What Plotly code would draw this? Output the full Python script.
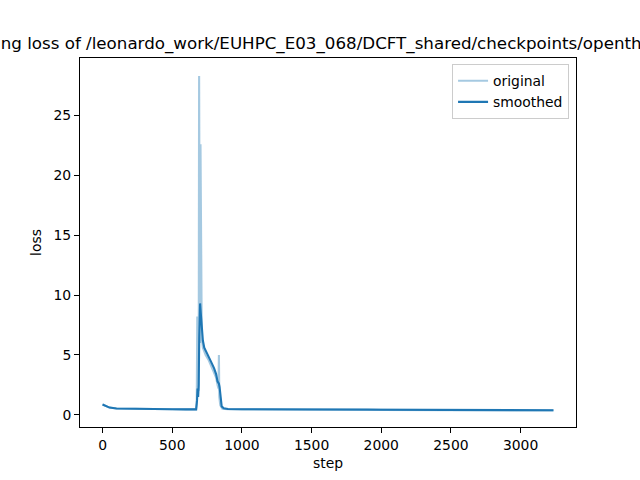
import plotly.graph_objects as go

orig_steps = [0, 20, 50, 100, 200, 300, 400, 500, 600, 670, 676, 680, 683, 687, 690, 693,
              697, 700, 703, 707, 712, 720, 740, 760, 780, 800, 815, 825, 832, 835, 838,
              845, 860, 900, 1000, 1200, 1500, 1900, 1950, 2000, 2500, 3000, 3236]
orig_loss = [0.86, 0.75, 0.6, 0.53, 0.5, 0.49, 0.47, 0.46, 0.45, 0.45, 1.0, 8.2, 1.5, 6.0, 2.0, 28.3,
             12.0, 6.0, 22.6, 8.0, 6.5, 5.6, 5.0, 4.6, 4.1, 3.6, 3.1, 2.5, 2.2, 5.0, 1.5,
             0.8, 0.5, 0.46, 0.45, 0.44, 0.43, 0.43, 0.41, 0.4, 0.38, 0.37, 0.37]

# smoothed loss
smooth_steps = [0, 20, 50, 100, 200, 300, 400, 500, 600, 672, 678, 682, 686, 690, 694, 700,
                705, 712, 720, 730, 745, 760, 780, 800, 815, 825, 835, 840, 848, 855, 870,
                900, 1000, 1500, 1900, 1950, 2000, 2500, 3000, 3236]
smooth_loss = [0.86, 0.75, 0.6, 0.53, 0.5, 0.49, 0.47, 0.46, 0.45, 0.45, 1.2, 2.2, 1.5, 2.5, 6.5, 9.3,
               8.5, 7.2, 6.2, 5.6, 5.2, 4.8, 4.4, 3.9, 3.4, 2.8, 2.6, 2.3, 1.0, 0.7, 0.55,
               0.48, 0.46, 0.44, 0.44, 0.42, 0.41, 0.39, 0.38, 0.38]

x_ticks = [0, 500, 1000, 1500, 2000, 2500, 3000]
y_ticks = [0, 5, 10, 15, 20, 25]

title_text = "training loss of /leonardo_work/EUHPC_E03_068/DCFT_shared/checkpoints/openthoughts"

FONT = "DejaVu Sans"
fig = go.Figure()
fig.add_trace(go.Scatter(x=orig_steps, y=orig_loss, mode="lines", name="original",
                         line=dict(color="rgba(31,119,180,0.4)", width=2.1)))
fig.add_trace(go.Scatter(x=smooth_steps, y=smooth_loss, mode="lines", name="smoothed",
                         line=dict(color="#1f77b4", width=2.1)))

n = 3236
fig.update_layout(
    width=640, height=480,
    margin=dict(l=80, r=64, t=57.6, b=52.8, pad=0),
    paper_bgcolor="white", plot_bgcolor="white",
    font=dict(family=FONT, size=13.9, color="black"),
    title=dict(text=title_text, x=328/640, xanchor="center", xref="container",
               y=1-43/480, yref="container", yanchor="middle",
               font=dict(size=16.7, family=FONT, color="black")),
    showlegend=True,
    legend=dict(x=0.986, y=0.983, xanchor="right", yanchor="top",
                bgcolor="rgba(255,255,255,0.8)", bordercolor="#cccccc", borderwidth=1,
                font=dict(size=13.9, family=FONT), tracegroupgap=0, itemwidth=30),
    xaxis=dict(range=[-0.05*n, 1.05*n], tickvals=x_ticks, ticks="outside", ticklen=5,
               tickwidth=1, tickcolor="black", showline=True, mirror=True,
               linecolor="black", linewidth=1, showgrid=False, zeroline=False,
               tickfont=dict(size=13.9, family=FONT),
               title=dict(text="step", standoff=6, font=dict(size=13.9, family=FONT))),
    yaxis=dict(range=[-1.02, 29.8], tickvals=y_ticks, ticks="outside", ticklen=5,
               tickwidth=1, tickcolor="black", showline=True, mirror=True,
               linecolor="black", linewidth=1, showgrid=False, zeroline=False,
               tickfont=dict(size=13.9, family=FONT),
               title=dict(text="loss", standoff=8, font=dict(size=13.9, family=FONT))),
)
fig.write_html("out.html", config={"displayModeBar": False},
               post_script="document.body.style.margin='0';")
